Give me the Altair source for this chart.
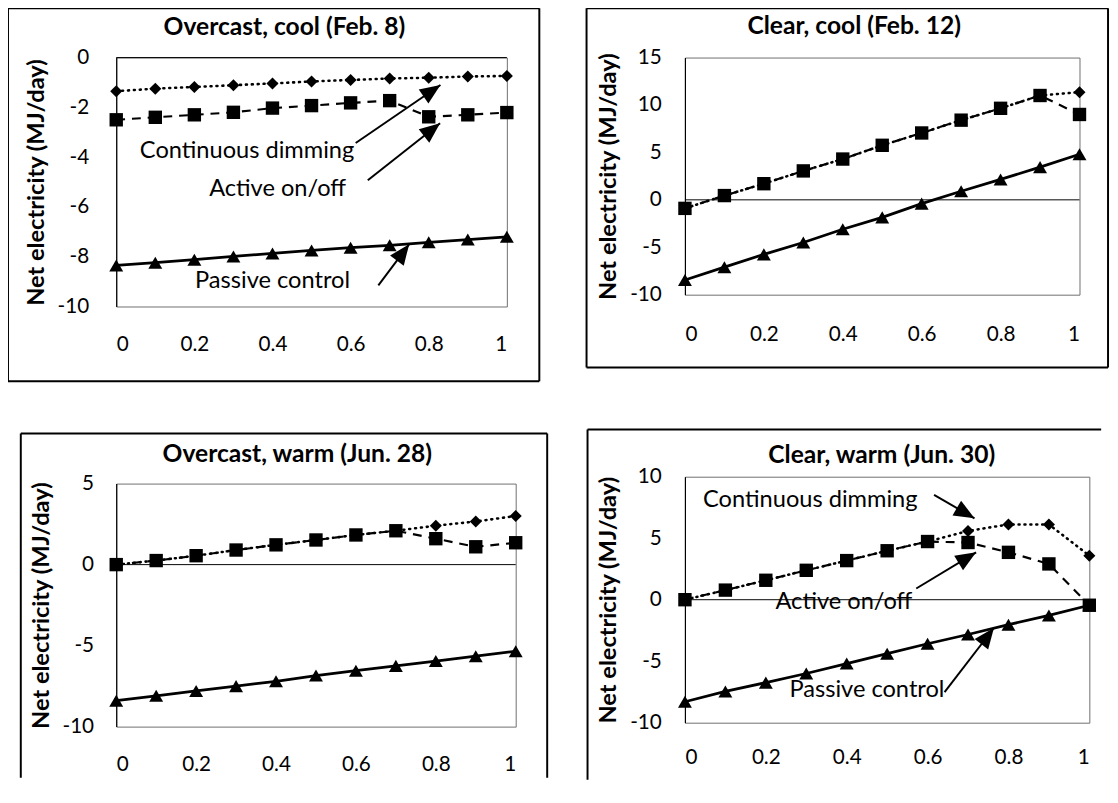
import math
import altair as alt
import pandas as pd

FONT = "Lato"
YTITLE = "Net electricity (MJ/day)"

x_vals = [0.0, 0.1, 0.2, 0.3, 0.4, 0.5, 0.6, 0.7, 0.8, 0.9, 1.0]
series_names = ["Continuous dimming", "Active on/off", "Passive control"]

# Panel 1: Overcast, cool (Feb. 8)
p1_cont = [-1.35, -1.25, -1.18, -1.11, -1.04, -0.96, -0.90, -0.84, -0.81, -0.76, -0.74]
p1_active = [-2.50, -2.40, -2.30, -2.20, -2.03, -1.93, -1.82, -1.73, -2.38, -2.30, -2.21]
p1_passive = [-8.35, -8.24, -8.12, -7.99, -7.87, -7.75, -7.64, -7.54, -7.42, -7.31, -7.20]

# Panel 2: Clear, cool (Feb. 12)
p2_cont = [-0.9, 0.45, 1.7, 3.05, 4.3, 5.75, 7.05, 8.4, 9.65, 11.0, 11.35]
p2_active = [-0.9, 0.45, 1.7, 3.05, 4.3, 5.75, 7.05, 8.4, 9.65, 11.0, 9.0]
p2_passive = [-8.45, -7.1, -5.75, -4.5, -3.1, -1.85, -0.4, 0.9, 2.15, 3.45, 4.8]

# Panel 3: Overcast, warm (Jun. 28)
p3_cont = [0.0, 0.25, 0.55, 0.9, 1.22, 1.52, 1.83, 2.09, 2.4, 2.66, 3.0]
p3_active = [0.0, 0.25, 0.55, 0.9, 1.22, 1.52, 1.83, 2.09, 1.6, 1.1, 1.35]
p3_passive = [-8.4, -8.1, -7.8, -7.5, -7.2, -6.85, -6.55, -6.25, -5.95, -5.65, -5.35]

# Panel 4: Clear, warm (Jun. 30)
p4_cont = [0.0, 0.78, 1.58, 2.39, 3.18, 3.98, 4.73, 5.59, 6.12, 6.12, 3.58]
p4_active = [0.0, 0.78, 1.58, 2.39, 3.18, 3.98, 4.73, 4.65, 3.85, 2.91, -0.45]
p4_passive = [-8.3, -7.46, -6.74, -6.0, -5.19, -4.39, -3.58, -2.83, -2.03, -1.28, -0.45]

# Annotation labels (data coordinates) and arrows (tail -> tip)
p1_note_text = ["Continuous dimming", "Active on/off", "Passive control"]
p1_note_x = [0.335, 0.413, 0.40]
p1_note_y = [-3.76, -5.28, -9.0]
p1_arrow_x1 = [0.613, 0.644, 0.671]
p1_arrow_y1 = [-3.43, -4.93, -9.15]
p1_arrow_x2 = [0.83, 0.829, 0.75]
p1_arrow_y2 = [-1.1, -2.64, -7.5]

p4_note_text = ["Continuous dimming", "Active on/off", "Passive control"]
p4_note_x = [0.31, 0.393, 0.45]
p4_note_y = [8.13, -0.16, -7.38]
p4_arrow_x1 = [0.616, 0.572, 0.642]
p4_arrow_y1 = [8.53, 0.91, -7.51]
p4_arrow_x2 = [0.716, 0.72, 0.764]
p4_arrow_y2 = [6.62, 3.85, -2.3]

ARROW_SHAPE = "M0,0L0.5,1.2L-0.5,1.2Z"


def one_row():
    return pd.DataFrame({"k": [0]})


def panel(title, cont, active, passive, ydom, yvals, W, H, frame_segs,
          title_xy, ylabpad, ytitlepad, xlabpad, notes=None):
    df = pd.DataFrame({
        "x": x_vals * 3,
        "y": cont + active + passive,
        "s": [series_names[0]] * 11 + [series_names[1]] * 11 + [series_names[2]] * 11,
    })
    xscale = alt.Scale(domain=[0, 1], nice=False, zero=False)
    yscale = alt.Scale(domain=ydom, nice=False, zero=False)
    xaxis = alt.Axis(values=[0, 0.2, 0.4, 0.6, 0.8, 1], format="~g", domain=False,
                     ticks=False, grid=False, labelPadding=xlabpad, title=None)
    yaxis = alt.Axis(values=yvals, labelExpr="datum.value + ''", domain=True,
                     domainColor="black", domainWidth=1.2, ticks=False, grid=False,
                     labelPadding=ylabpad, title=YTITLE, titlePadding=ytitlepad)
    xe = alt.X("x:Q", scale=xscale, axis=xaxis)
    ye = alt.Y("y:Q", scale=yscale, axis=yaxis)
    base = alt.Chart(df)

    layers = []
    # outer frame (decoration)
    for (a, b, c, d) in frame_segs:
        layers.append(alt.Chart(one_row()).mark_rule(color="black", strokeWidth=2).encode(
            x=alt.value(a), x2=alt.value(b), y=alt.value(c), y2=alt.value(d)))
    # zero line
    layers.append(alt.Chart(one_row()).mark_rule(color="black", strokeWidth=1).encode(
        y=alt.YDatum(0, type="quantitative", scale=yscale, axis=yaxis)))

    f_c = alt.datum.s == series_names[0]
    f_a = alt.datum.s == series_names[1]
    f_p = alt.datum.s == series_names[2]
    layers += [
        base.transform_filter(f_c).mark_line(color="black", strokeWidth=2.6,
                                             strokeDash=[1, 5], strokeCap="round").encode(x=xe, y=ye),
        base.transform_filter(f_a).mark_line(color="black", strokeWidth=2.2,
                                             strokeDash=[9, 7]).encode(x=xe, y=ye),
        base.transform_filter(f_p).mark_line(color="black", strokeWidth=2.8).encode(x=xe, y=ye),
        base.transform_filter(f_c).mark_point(shape="diamond", filled=True, size=150,
                                              color="black", opacity=1).encode(x=xe, y=ye),
        base.transform_filter(f_a).mark_point(shape="square", filled=True, size=185,
                                              color="black", opacity=1).encode(x=xe, y=ye),
        base.transform_filter(f_p).mark_point(shape="triangle-up", filled=True, size=200,
                                              color="black", opacity=1).encode(x=xe, y=ye),
    ]

    if notes is not None:
        (txt, tx, ty, ax1, ay1, ax2, ay2) = notes
        ndf = pd.DataFrame({"label": txt, "x": tx, "y": ty})
        yspan = ydom[1] - ydom[0]
        angles = []
        for i in range(len(ax1)):
            dxp = (ax2[i] - ax1[i]) * W
            dyp = -(ay2[i] - ay1[i]) / yspan * H
            ang = math.degrees(math.atan2(dxp, -dyp)) % 360
            angles.append(ang)
        adf = pd.DataFrame({"x": ax1, "y": ay1, "x2": ax2, "y2": ay2, "ang": angles})
        layers.append(alt.Chart(adf).mark_rule(color="black", strokeWidth=2).encode(
            x=xe, y=ye, x2="x2:Q", y2="y2:Q"))
        layers.append(alt.Chart(adf).mark_point(shape=ARROW_SHAPE, filled=True, size=1200,
                                                color="black", opacity=1).encode(
            x=alt.X("x2:Q", scale=xscale, axis=xaxis),
            y=alt.Y("y2:Q", scale=yscale, axis=yaxis),
            angle=alt.Angle("ang:Q", scale=None)))
        layers.append(alt.Chart(ndf).mark_text(font=FONT, fontSize=24, color="black",
                                               align="center", baseline="middle").encode(
            x=xe, y=ye, text="label:N"))

    layers.append(alt.Chart(one_row()).mark_text(font=FONT, fontSize=25, fontWeight="bold",
                                                 color="black", align="center",
                                                 baseline="middle").encode(
        x=alt.value(title_xy[0]), y=alt.value(title_xy[1]), text=alt.value(title)))

    return alt.layer(*layers).properties(width=W, height=H)


W1, H1 = 397, 253
W2, H2 = 401, 241
W3, H3 = 406, 247
W4, H4 = 411, 250

def box(l, r, t, b):
    return [(l, r, t, t), (l, r, b, b), (l, l, t, b), (r, r, t, b)]

p1 = panel("Overcast, cool (Feb. 8)", p1_cont, p1_active, p1_passive, [-10, 0],
           [-10, -8, -6, -4, -2, 0], W1, H1, box(-110, W1 + 33, -50, H1 + 76),
           (171, -31), 28, 9, 28,
           (p1_note_text, p1_note_x, p1_note_y, p1_arrow_x1, p1_arrow_y1, p1_arrow_x2, p1_arrow_y2))
p2 = panel("Clear, cool (Feb. 12)", p2_cont, p2_active, p2_passive, [-10, 15],
           [-10, -5, 0, 5, 10, 15], W2, H2, box(-100, W2 + 29, -50, H2 + 74),
           (172, -32), 24, 9, 30)
p3 = panel("Overcast, warm (Jun. 28)", p3_cont, p3_active, p3_passive, [-10, 5],
           [-10, -5, 0, 5], W3, H3,
           [(-97, W3 + 32, -51, -51), (-97, -97, -51, H3 + 52), (W3 + 32, W3 + 32, -51, H3 + 52)],
           (184, -30), 23, 9, 28)
p4 = panel("Clear, warm (Jun. 30)", p4_cont, p4_active, p4_passive, [-10, 10],
           [-10, -5, 0, 5, 10], W4, H4,
           [(-99, W4 + 12, -48, -48), (-99, -99, -48, H4 + 58)],
           (200, -22), 24, 9, 24,
           (p4_note_text, p4_note_x, p4_note_y, p4_arrow_x1, p4_arrow_y1, p4_arrow_x2, p4_arrow_y2))

chart = alt.hconcat(
    alt.vconcat(p1, p3, spacing=49),
    alt.vconcat(p2, p4, spacing=59),
    spacing=36,
).properties(
    padding={"left": -2, "top": -8, "right": 0, "bottom": 0}, background="white"
).configure_view(
    stroke="#6e6e6e", strokeWidth=1
).configure_axis(
    labelFont=FONT, labelFontSize=21, labelColor="black",
    titleFont=FONT, titleFontSize=24, titleFontWeight="bold", titleColor="black"
)

chart.save("out.html", embed_options={"renderer": "svg", "actions": False})
